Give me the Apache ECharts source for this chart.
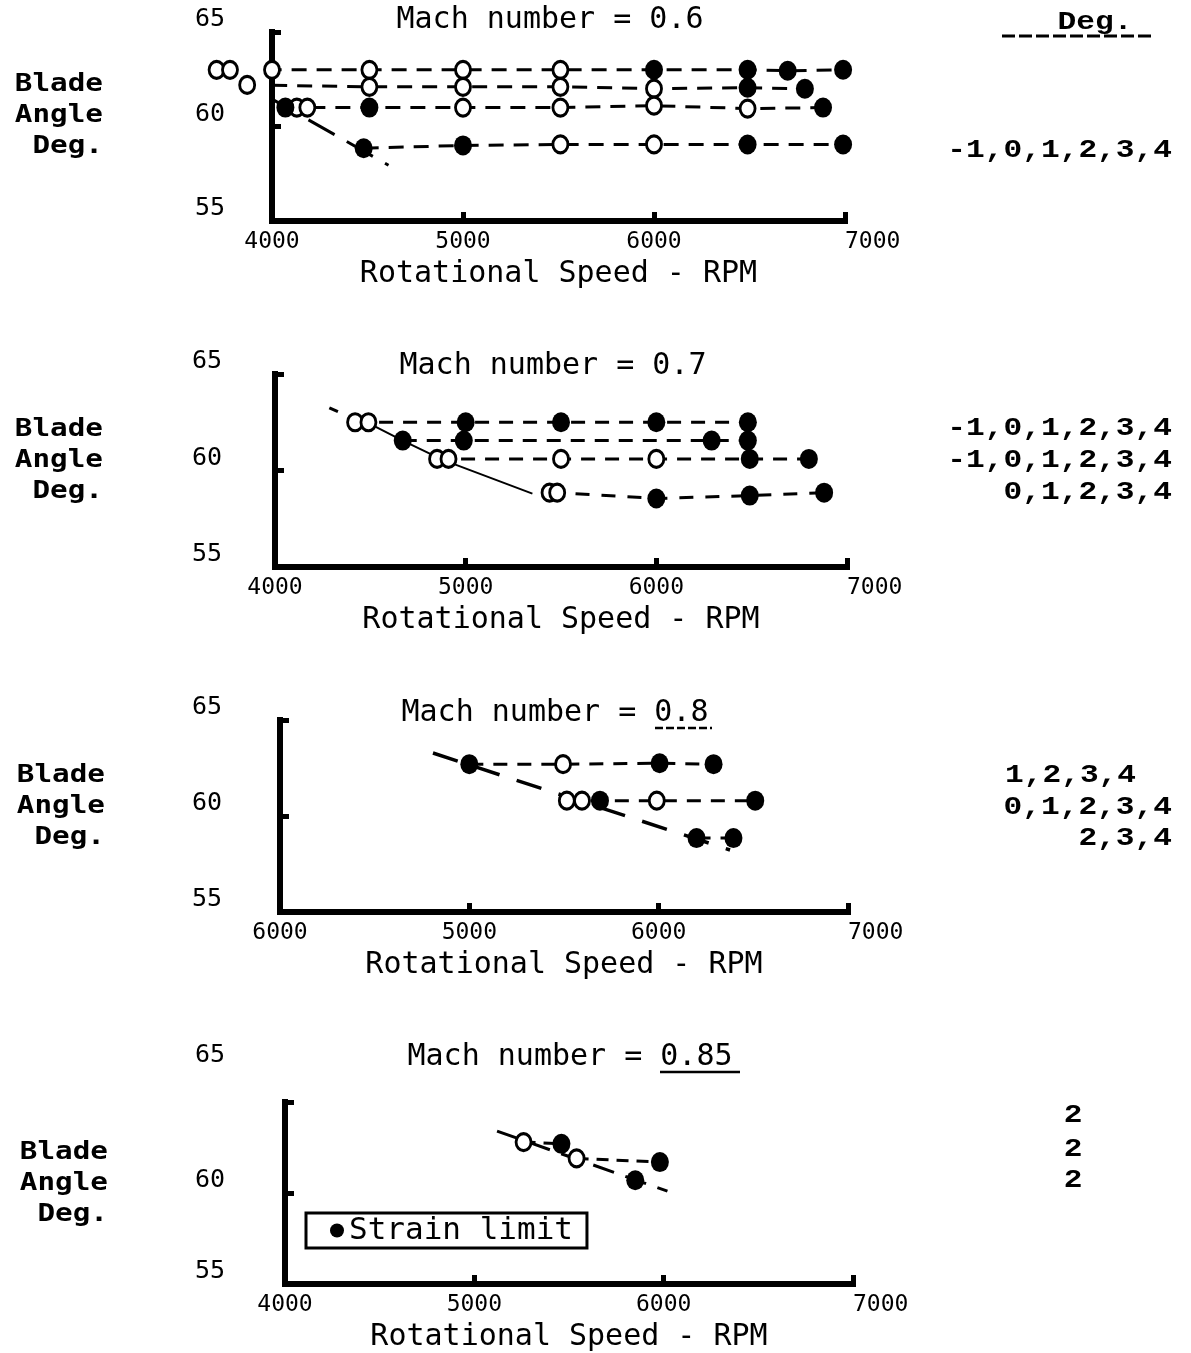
<!DOCTYPE html>
<html><head><meta charset="utf-8">
<script src="https://cdn.jsdelivr.net/npm/echarts@6/dist/echarts.min.js"></script>
<style>html,body{margin:0;padding:0;background:#fff}#chart{width:1191px;height:1353px}</style>
</head><body><div id="chart"></div>
<script>
// ---------- texts ----------
const panelTitles = ['Mach number = 0.6', 'Mach number = 0.7', 'Mach number = 0.8', 'Mach number = 0.85'];
const xAxisName = 'Rotational Speed - RPM';
const yAxisName = 'Blade\nAngle\nDeg.';
const xTickLabelsStd = ['4000', '5000', '6000', '7000'];
const xTickLabelsM08 = ['6000', '5000', '6000', '7000']; // first label as printed
const yTickLabels = ['55', '60', '65'];
const degHeader = 'Deg.';
const degSetsM06 = ['-1,0,1,2,3,4'];
const degSetsM07 = ['-1,0,1,2,3,4', '-1,0,1,2,3,4', '0,1,2,3,4'];
const degSetsM08 = ['1,2,3,4', '0,1,2,3,4', '2,3,4'];
const degSetsM085 = ['2', '2', '2'];
const legendLabel = 'Strain limit';

// ---------- data (rpm, blade angle deg, strain-limit flag) ----------
// Mach 0.6
const m06A_rpm = [3710, 3780, 4000, 4510, 5000, 5510, 6000, 6490, 6700, 6990];
const m06A_deg = [63.0, 63.0, 63.0, 63.0, 63.0, 63.0, 63.0, 63.0, 62.95, 63.0];
const m06A_str = [0, 0, 0, 0, 0, 0, 1, 1, 1, 1];
const m06B_rpm = [3870, 4510, 5000, 5510, 6000, 6490, 6790];
const m06B_deg = [62.2, 62.1, 62.1, 62.1, 62.0, 62.05, 62.0];
const m06B_str = [0, 0, 0, 0, 0, 1, 1];
const m06C_rpm = [4070, 4130, 4185, 4510, 5000, 5510, 6000, 6490, 6885];
const m06C_deg = [61.0, 61.0, 61.0, 61.0, 61.0, 61.0, 61.1, 60.95, 61.0];
const m06C_str = [1, 0, 0, 1, 0, 0, 0, 0, 1];
const m06D_rpm = [4480, 5000, 5510, 6000, 6490, 6990];
const m06D_deg = [58.85, 59.0, 59.05, 59.05, 59.05, 59.05];
const m06D_str = [1, 1, 0, 0, 1, 1];
const m06Lim_rpm = [3590, 4610];
const m06Lim_deg = [63.8, 57.95];
// Mach 0.7
const m07A_rpm = [4420, 4490, 5000, 5500, 6000, 6480];
const m07A_deg = [62.5, 62.5, 62.5, 62.5, 62.5, 62.5];
const m07A_str = [0, 0, 1, 1, 1, 1];
const m07B_rpm = [4670, 4990, 6290, 6480];
const m07B_deg = [61.55, 61.55, 61.55, 61.55];
const m07B_str = [1, 1, 1, 1];
const m07C_rpm = [4850, 4910, 5500, 6000, 6490, 6800];
const m07C_deg = [60.6, 60.6, 60.6, 60.6, 60.6, 60.6];
const m07C_str = [0, 0, 0, 0, 1, 1];
const m07D_rpm = [5440, 5480, 6000, 6490, 6880];
const m07D_deg = [58.85, 58.85, 58.55, 58.7, 58.85];
const m07D_str = [0, 0, 1, 1, 1];
const m07LimTop_rpm = [4285, 4330];
const m07LimTop_deg = [63.25, 63.05];
const m07Lim_rpm = [4490, 4670, 4880, 5350];
const m07Lim_deg = [62.45, 61.55, 60.55, 58.8];
// Mach 0.8
const m08A_rpm = [5000, 5495, 6005, 6290];
const m08A_deg = [62.7, 62.7, 62.75, 62.7];
const m08A_str = [1, 0, 1, 1];
const m08B_rpm = [5515, 5595, 5690, 5990, 6510];
const m08B_deg = [60.8, 60.8, 60.8, 60.8, 60.8];
const m08B_str = [0, 0, 1, 0, 1];
const m08C_rpm = [6200, 6395];
const m08C_deg = [58.85, 58.85];
const m08C_str = [1, 1];
const m08Lim_rpm = [4808, 6377];
const m08Lim_deg = [63.28, 58.23];
// Mach 0.85
const m085A_rpm = [5260, 5460];
const m085A_deg = [62.8, 62.7];
const m085A_str = [0, 1];
const m085B_rpm = [5540, 5980];
const m085B_deg = [61.9, 61.7];
const m085B_str = [0, 1];
const m085C_rpm = [5850];
const m085C_deg = [60.7];
const m085C_str = [1];
const m085Lim_rpm = [5120, 6020];
const m085Lim_deg = [63.4, 60.1];

// ---------- layout ----------
const MONO = '"DejaVu Sans Mono", "Liberation Mono", monospace';
const grids = [
  { left: 272, top: 32, width: 573, height: 189 },
  { left: 275, top: 374, width: 572, height: 193 },
  { left: 280, top: 720, width: 568, height: 192 },
  { left: 285, top: 1102, width: 568, height: 186 }
];
const yLabelMargins = [47, 53, 58, 60];
const xLabelSets = [xTickLabelsStd, xTickLabelsStd, xTickLabelsM08, xTickLabelsStd];

const xAxes = grids.map((g, i) => ({
  type: 'value', gridIndex: i, min: 4000, max: 7000, interval: 1000,
  name: xAxisName, nameLocation: 'middle', nameGap: 38,
  nameTextStyle: { fontFamily: MONO, fontSize: 30, color: '#000' },
  axisLine: { lineStyle: { color: '#000', width: 6, cap: 'square' } },
  axisTick: { inside: true, length: 9, lineStyle: { color: '#000', width: 5 } },
  splitLine: { show: false },
  axisLabel: {
    margin: 10, fontFamily: MONO, fontSize: 23, color: '#000',
    alignMaxLabel: 'left',
    formatter: v => xLabelSets[i][Math.round((v - 4000) / 1000)]
  }
}));
const yAxes = grids.map((g, i) => ({
  type: 'value', gridIndex: i, min: 55, max: 65, interval: 5,
  axisLine: { lineStyle: { color: '#000', width: 6, cap: 'square' } },
  axisTick: { inside: true, length: 9, lineStyle: { color: '#000', width: 5 } },
  splitLine: { show: false },
  axisLabel: {
    margin: yLabelMargins[i], fontFamily: MONO, fontSize: 25, color: '#000',
    verticalAlign: 'bottom',
    formatter: v => {
      const t = yTickLabels[Math.round((v - 55) / 5)];
      return (i === 3 && v === 65) ? '{hi|' + t + '}' : t;
    },
    rich: { hi: { fontFamily: MONO, fontSize: 25, color: '#000', padding: [0, 0, 34, 0] } }
  }
}));

const series = [];
function addRow(p, rpm, deg, str, dash) {
  const pts = rpm.map((x, j) => [x, deg[j]]);
  series.push({
    type: 'line', xAxisIndex: p, yAxisIndex: p, data: pts, showSymbol: false, symbol: 'none',
    clip: false, silent: true, z: 2,
    lineStyle: { color: '#000', width: 3, type: dash }
  });
  series.push({
    type: 'scatter', name: 'Test point', xAxisIndex: p, yAxisIndex: p, clip: false, z: 3,
    data: pts.filter((_, j) => !str[j]), symbol: 'circle', symbolSize: [15, 17],
    itemStyle: { color: '#fff', borderColor: '#000', borderWidth: 3, opacity: 1 }
  });
  series.push({
    type: 'scatter', name: legendLabel, xAxisIndex: p, yAxisIndex: p, clip: false, z: 4,
    data: pts.filter((_, j) => str[j]), symbol: 'circle', symbolSize: [18, 20],
    itemStyle: { color: '#000', opacity: 1 }
  });
}
function addLimit(p, rpm, deg, type, width) {
  series.push({
    type: 'line', xAxisIndex: p, yAxisIndex: p, data: rpm.map((x, j) => [x, deg[j]]),
    showSymbol: false, symbol: 'none', clip: false, silent: true, z: 1,
    lineStyle: { color: '#000', width: width, type: type }
  });
}
const rowDash = [15, 10];
addRow(0, m06A_rpm, m06A_deg, m06A_str, rowDash);
addRow(0, m06B_rpm, m06B_deg, m06B_str, rowDash);
addRow(0, m06C_rpm, m06C_deg, m06C_str, rowDash);
addRow(0, m06D_rpm, m06D_deg, m06D_str, rowDash);
addLimit(0, m06Lim_rpm, m06Lim_deg, [30, 14], 3);
addRow(1, m07A_rpm, m07A_deg, m07A_str, [14, 10]);
addRow(1, m07B_rpm, m07B_deg, m07B_str, [14, 10]);
addRow(1, m07C_rpm, m07C_deg, m07C_str, [14, 10]);
addRow(1, m07D_rpm, m07D_deg, m07D_str, [14, 12]);
addLimit(1, m07LimTop_rpm, m07LimTop_deg, 'solid', 3);
addLimit(1, m07Lim_rpm, m07Lim_deg, 'solid', 2);
addRow(2, m08A_rpm, m08A_deg, m08A_str, [14, 10]);
addRow(2, m08B_rpm, m08B_deg, m08B_str, [14, 10]);
addRow(2, m08C_rpm, m08C_deg, m08C_str, [14, 10]);
addLimit(2, m08Lim_rpm, m08Lim_deg, [26, 18], 3.5);
addRow(3, m085A_rpm, m085A_deg, m085A_str, [12, 8]);
addRow(3, m085B_rpm, m085B_deg, m085B_str, [12, 8]);
addRow(3, m085C_rpm, m085C_deg, m085C_str, [12, 8]);
addLimit(3, m085Lim_rpm, m085Lim_deg, [22, 12], 3);

// titles
const titleCenters = [[550, 5], [553, 351], [555, 698], [570, 1042]];
const titles = panelTitles.map((t, i) => ({
  text: t, left: titleCenters[i][0], top: titleCenters[i][1], textAlign: 'center', padding: 0,
  textStyle: { fontFamily: MONO, fontSize: 30, fontWeight: 'normal', color: '#000' }
}));

// graphic texts
const graphic = [];
const bladePos = [[103, 116], [103, 461], [105, 807], [108, 1184]];
bladePos.forEach(p => graphic.push({
  type: 'text', x: p[0], y: p[1], scaleX: 1.22,
  style: { text: yAxisName, font: 'bold 24px ' + MONO, fill: '#000', align: 'right', verticalAlign: 'middle', lineHeight: 31 }
}));
function degText(txt, x, y, align) {
  graphic.push({
    type: 'text', x: x, y: y, scaleX: 1.2,
    style: { text: txt, font: 'bold 26px "Liberation Mono", ' + MONO, fill: '#000', align: align, verticalAlign: 'middle' }
  });
}
degText(degHeader, 1095, 22, 'center');
graphic.push({ type: 'line', shape: { x1: 1002, y1: 36, x2: 1152, y2: 36 }, style: { stroke: '#000', lineWidth: 3, lineDash: [13, 4] } });
degText(degSetsM06[0], 1172, 150, 'right');
[428, 460, 492].forEach((y, k) => degText(degSetsM07[k], 1172, y, 'right'));
degText(degSetsM08[0], 1005, 775, 'left');
degText(degSetsM08[1], 1172, 807, 'right');
degText(degSetsM08[2], 1172, 838, 'right');
[1115, 1149, 1180].forEach((y, k) => degText(degSetsM085[k], 1073, y, 'center'));
// underlines of Mach number values
graphic.push({ type: 'line', shape: { x1: 655, y1: 728, x2: 712, y2: 728 }, style: { stroke: '#000', lineWidth: 2.5, lineDash: [8, 3] } });
graphic.push({ type: 'line', shape: { x1: 660, y1: 1072, x2: 740, y2: 1072 }, style: { stroke: '#000', lineWidth: 2.5 } });

const option = {
  animation: false,
  backgroundColor: '#fff',
  title: titles,
  grid: grids.map(g => Object.assign({ containLabel: false }, g)),
  xAxis: xAxes,
  yAxis: yAxes,
  legend: {
    data: [{ name: legendLabel, icon: 'circle', itemStyle: { color: '#000' } }],
    left: 306, top: 1213, itemWidth: 14, itemHeight: 14, selectedMode: false,
    borderColor: '#000', borderWidth: 3, borderRadius: 0, padding: [2, 14, 2, 24],
    textStyle: { fontFamily: MONO, fontSize: 31, color: '#000', lineHeight: 31 }
  },
  graphic: graphic,
  series: series
};
const chart = echarts.init(document.getElementById('chart'), null, { renderer: 'canvas' });
chart.setOption(option);
</script>
</body></html>
